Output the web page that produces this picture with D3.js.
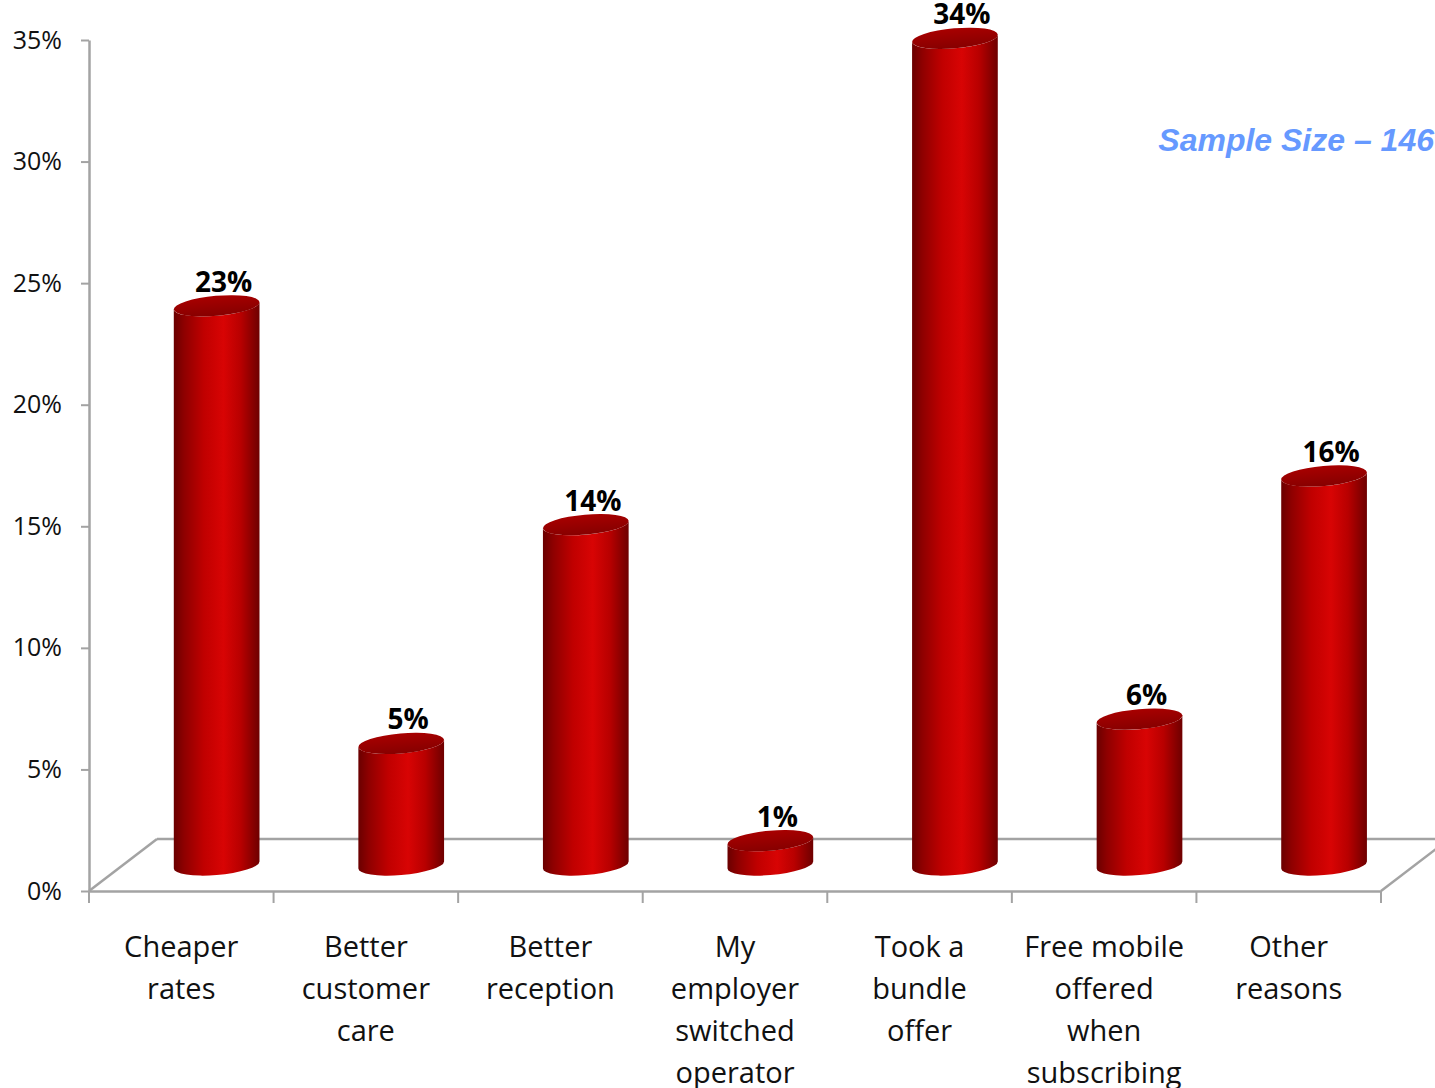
<!DOCTYPE html>
<html>
<head>
<meta charset="utf-8">
<script src="https://cdn.jsdelivr.net/npm/d3@7"></script>
<style>
  html, body { margin: 0; padding: 0; background: #ffffff; }
  svg { display: block; }
</style>
</head>
<body>
<svg id="chart" width="1435" height="1088"></svg>
<script>
// Reasons for switching mobile operator (share of respondents)
const categories = [
  "Cheaper\nrates",
  "Better\ncustomer\ncare",
  "Better\nreception",
  "My\nemployer\nswitched\noperator",
  "Took a\nbundle\noffer",
  "Free mobile\noffered\nwhen\nsubscribing",
  "Other\nreasons"
];
const values = [0.23, 0.05, 0.14, 0.01, 0.34, 0.06, 0.16];
const yTicks = [0, 0.05, 0.10, 0.15, 0.20, 0.25, 0.30, 0.35];
const sampleNote = "Sample Size \u2013 146";

const svg = d3.select("#chart");
const frame = { left: 89, right: 1381, top: 40, bottom: 891 };
const depth = { dx: 68, dy: 52 };          // oblique offset of the floor's back edge
const tilt = -5;                            // perspective tilt of the cylinder ends, degrees
const labelFont = "'Open Sans', 'Noto Sans', 'DejaVu Sans', sans-serif";

const x = d3.scaleBand().domain(d3.range(categories.length)).range([frame.left, frame.right]).padding(0);
const y = d3.scaleLinear().domain([0, 0.35]).range([frame.bottom, frame.top]);

// gradients for the cylinder body and cap
const defs = svg.append("defs");
const side = defs.append("linearGradient").attr("id", "cylSide").attr("x1", 0).attr("x2", 1).attr("y1", 0).attr("y2", 0);
[[0, "#6a0000"], [0.12, "#8e0000"], [0.35, "#c00000"], [0.58, "#d80404"], [0.78, "#b80000"], [1, "#6e0000"]]
  .forEach(([o, c]) => side.append("stop").attr("offset", o).attr("stop-color", c));
const cap = defs.append("linearGradient").attr("id", "cylCap").attr("x1", 0).attr("x2", 0).attr("y1", 0).attr("y2", 1);
[[0, "#a80000"], [1, "#860000"]]
  .forEach(([o, c]) => cap.append("stop").attr("offset", o).attr("stop-color", c));

// floor of the 3D plot area
const floorColor = "#a3a3a3";
const floor = svg.append("g").attr("fill", "none").attr("stroke", floorColor).attr("stroke-width", 2.5);
floor.append("line")
  .attr("x1", frame.left + depth.dx).attr("y1", y(0) - depth.dy)
  .attr("x2", frame.right + depth.dx).attr("y2", y(0) - depth.dy);
floor.append("line")
  .attr("x1", frame.left).attr("y1", y(0))
  .attr("x2", frame.left + depth.dx).attr("y2", y(0) - depth.dy);
floor.append("line")
  .attr("x1", frame.right).attr("y1", y(0))
  .attr("x2", frame.right + depth.dx).attr("y2", y(0) - depth.dy);

// value axis
const yAxis = svg.append("g")
  .attr("transform", `translate(${frame.left},0)`)
  .call(d3.axisLeft(y).tickValues(yTicks).tickFormat(d3.format(".0%")).tickSize(8).tickSizeOuter(0).tickPadding(19));
yAxis.select(".domain").attr("stroke", floorColor).attr("stroke-width", 2.5);
yAxis.selectAll(".tick line").attr("stroke", floorColor).attr("stroke-width", 2);
yAxis.selectAll(".tick text")
  .attr("font-family", labelFont).attr("font-size", 25).attr("fill", "#111");

// category axis along the front edge of the floor
const xAxis = svg.append("g")
  .attr("transform", `translate(0,${frame.bottom})`)
  .call(d3.axisBottom(x).tickSize(0).tickPadding(0).tickFormat(""));
xAxis.select(".domain").attr("stroke", floorColor).attr("stroke-width", 2.5);
const bounds = d3.range(categories.length + 1).map(i => i < categories.length ? x(i) : x(i - 1) + x.bandwidth());
xAxis.selectAll("line.sep").data(bounds).join("line").attr("class", "sep")
  .attr("x1", d => d).attr("x2", d => d).attr("y1", 0).attr("y2", 12)
  .attr("stroke", floorColor).attr("stroke-width", 2);

const catText = svg.append("g")
  .attr("font-family", labelFont).attr("font-size", 29).attr("fill", "#111").attr("text-anchor", "middle")
  .selectAll("text").data(categories).join("text")
  .attr("x", (d, i) => x(i) + x.bandwidth() / 2)
  .attr("y", 957);
catText.selectAll("tspan").data(d => d.split("\n")).join("tspan")
  .attr("x", function () { return d3.select(this.parentNode).attr("x"); })
  .attr("dy", (d, j) => j === 0 ? 0 : 42)
  .text(d => d);

// cylinders
const rx = x.bandwidth() * 0.233, ry = 10;
const th = tilt * Math.PI / 180, cosT = Math.cos(th), sinT = Math.sin(th);
const t0 = Math.atan2(-ry * sinT, rx * cosT);
function ellPoint(cx, cy, t) {
  return [cx + rx * Math.cos(t) * cosT - ry * Math.sin(t) * sinT,
          cy + rx * Math.cos(t) * sinT + ry * Math.sin(t) * cosT];
}
const bars = values.map((v, i) => {
  const cx = x(i) + x.bandwidth() / 2 + depth.dx * 0.52;
  return { v, i, cx, top: y(v) - depth.dy / 2, base: y(0) - depth.dy / 2 };
});

const barG = svg.append("g");
barG.selectAll("path.body").data(bars).join("path").attr("class", "body")
  .attr("fill", "url(#cylSide)")
  .attr("d", b => {
    const rT = ellPoint(b.cx, b.top, t0), lT = ellPoint(b.cx, b.top, t0 + Math.PI);
    const rB = ellPoint(b.cx, b.base, t0), lB = ellPoint(b.cx, b.base, t0 + Math.PI);
    return `M${lT[0]},${lT[1]} L${lB[0]},${lB[1]} A${rx},${ry} ${tilt} 0 0 ${rB[0]},${rB[1]} ` +
           `L${rT[0]},${rT[1]} A${rx},${ry} ${tilt} 0 1 ${lT[0]},${lT[1]} Z`;
  });
barG.selectAll("ellipse.cap").data(bars).join("ellipse").attr("class", "cap")
  .attr("cx", b => b.cx).attr("cy", b => b.top).attr("rx", rx).attr("ry", ry)
  .attr("transform", b => `rotate(${tilt},${b.cx},${b.top})`)
  .attr("fill", "url(#cylCap)");

// value labels
svg.append("g")
  .attr("font-family", labelFont).attr("font-size", 28).attr("font-weight", "bold")
  .attr("fill", "#000").attr("text-anchor", "middle")
  .selectAll("text").data(bars).join("text")
  .attr("x", b => b.cx + 7)
  .attr("y", b => b.top - 14)
  .text(b => d3.format(".0%")(b.v));

// sample size note
svg.append("text")
  .attr("x", 1434).attr("y", 151).attr("text-anchor", "end")
  .attr("font-family", "'Liberation Sans', Arial, sans-serif")
  .attr("font-size", 32).attr("font-weight", "bold").attr("font-style", "italic")
  .attr("fill", "#6699ff")
  .text(sampleNote);
</script>
</body>
</html>
